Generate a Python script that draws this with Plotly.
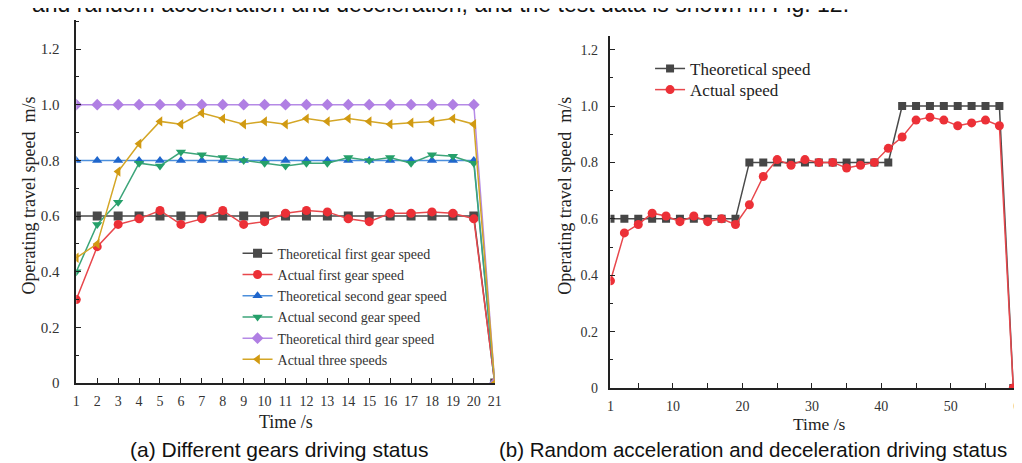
import plotly.graph_objects as go

# ---------------- data: (a) different gears ----------------
time_a = [1, 2, 3, 4, 5, 6, 7, 8, 9, 10, 11, 12, 13, 14, 15, 16, 17, 18, 19, 20, 21]
theo_first = [0.6, 0.6, 0.6, 0.6, 0.6, 0.6, 0.6, 0.6, 0.6, 0.6, 0.6, 0.6, 0.6, 0.6, 0.6, 0.6, 0.6, 0.6, 0.6, 0.6, 0.0]
act_first = [0.30, 0.49, 0.57, 0.59, 0.62, 0.57, 0.59, 0.62, 0.57, 0.58, 0.61, 0.62, 0.615, 0.59, 0.58, 0.61, 0.61, 0.615, 0.61, 0.59, 0.0]
theo_second = [0.8, 0.8, 0.8, 0.8, 0.8, 0.8, 0.8, 0.8, 0.8, 0.8, 0.8, 0.8, 0.8, 0.8, 0.8, 0.8, 0.8, 0.8, 0.8, 0.8, 0.0]
act_second = [0.40, 0.57, 0.65, 0.79, 0.78, 0.83, 0.82, 0.81, 0.80, 0.79, 0.78, 0.79, 0.79, 0.81, 0.80, 0.81, 0.79, 0.82, 0.815, 0.79, 0.0]
theo_third = [1.0, 1.0, 1.0, 1.0, 1.0, 1.0, 1.0, 1.0, 1.0, 1.0, 1.0, 1.0, 1.0, 1.0, 1.0, 1.0, 1.0, 1.0, 1.0, 1.0, 0.0]
act_third = [0.45, 0.50, 0.76, 0.86, 0.94, 0.93, 0.97, 0.95, 0.93, 0.94, 0.93, 0.95, 0.94, 0.95, 0.94, 0.93, 0.935, 0.94, 0.95, 0.93, 0.0]

# ---------------- data: (b) random acceleration / deceleration ----------------
time_b = [1, 3, 5, 7, 9, 11, 13, 15, 17, 19, 21, 23, 25, 27, 29, 31, 33, 35, 37, 39,
          41, 43, 45, 47, 49, 51, 53, 55, 57, 59]
theo_speed = [0.6, 0.6, 0.6, 0.6, 0.6, 0.6, 0.6, 0.6, 0.6, 0.6,
              0.8, 0.8, 0.8, 0.8, 0.8, 0.8, 0.8, 0.8, 0.8, 0.8, 0.8,
              1.0, 1.0, 1.0, 1.0, 1.0, 1.0, 1.0, 1.0, 0.0]
act_speed = [0.38, 0.55, 0.58, 0.62, 0.61, 0.59, 0.61, 0.59, 0.60, 0.58,
             0.65, 0.75, 0.81, 0.79, 0.81, 0.80, 0.80, 0.78, 0.79, 0.80, 0.85,
             0.89, 0.95, 0.96, 0.95, 0.93, 0.94, 0.95, 0.93, 0.0]

# ---------------- tick labels ----------------
y_tickvals = [0, 0.2, 0.4, 0.6, 0.8, 1.0, 1.2]
y_ticktext = ["0", "0.2", "0.4", "0.6", "0.8", "1.0", "1.2"]
xa_tickvals = time_a
xa_ticktext = [str(v) for v in time_a]
xb_tickvals = [1, 10, 20, 30, 40, 50, 60]
xb_ticktext = ["1", "10", "20", "30", "40", "50", "60"]

W, H = 1022, 463
SERIF = "Liberation Serif, Times New Roman, serif"
SANS = "Liberation Sans, Arial, sans-serif"

def px(v):
    return v / W

def py(v):
    return 1 - v / H

fig = go.Figure()

series_a = [
    ("Theoretical first gear speed", theo_first, "#4a4a4a", "#4a4a4a", "square"),
    ("Actual first gear speed", act_first, "#e8474c", "#ec2f36", "circle"),
    ("Theoretical second gear speed", theo_second, "#4c8fdc", "#1f66cc", "triangle-up"),
    ("Actual second gear speed", act_second, "#3da57a", "#25a06a", "triangle-down"),
    ("Theoretical third gear speed", theo_third, "#b58ae6", "#b07fe3", "diamond"),
    ("Actual three speeds", act_third, "#d4a626", "#d19a12", "triangle-left"),
]
for name, ys, lc, mc, sym in series_a:
    fig.add_trace(go.Scatter(
        x=time_a, y=ys, name=name, mode="lines+markers",
        line=dict(color=lc, width=1.5),
        marker=dict(symbol=sym, size=9, color=mc, line=dict(width=0)),
        xaxis="x", yaxis="y", legend="legend",
    ))

fig.add_trace(go.Scatter(
    x=time_b, y=theo_speed, name="Theoretical speed", mode="lines+markers",
    line=dict(color="#4a4a4a", width=1.5),
    marker=dict(symbol="square", size=8, color="#464646", line=dict(width=0)),
    xaxis="x2", yaxis="y2", legend="legend2",
))
fig.add_trace(go.Scatter(
    x=time_b, y=act_speed, name="Actual speed", mode="lines+markers",
    line=dict(color="#e8474c", width=1.5),
    marker=dict(symbol="circle", size=9, color="#ec3037", line=dict(width=0)),
    xaxis="x2", yaxis="y2", legend="legend3",
))

axis_common = dict(
    showgrid=False, zeroline=False, showline=True, linecolor="#222222", linewidth=1.5,
    ticks="inside", ticklen=5, tickwidth=1.2, tickcolor="#222222",
)

legend_common = dict(
    xanchor="left", yanchor="middle",
    bgcolor="rgba(255,255,255,0)", borderwidth=0,
    itemwidth=30, tracegroupgap=0,
)

fig.update_layout(
    width=W, height=H,
    margin=dict(l=0, r=0, t=0, b=0),
    paper_bgcolor="white", plot_bgcolor="white",
    showlegend=True,
    xaxis=dict(
        domain=[px(65), px(488)], range=[1, 21], anchor="y",
        tickvals=xa_tickvals, ticktext=xa_ticktext,
        tickfont=dict(family=SERIF, size=14, color="#333333"),
        ticklabelstandoff=4,
        **axis_common,
    ),
    yaxis=dict(
        domain=[py(381.7), py(12)], range=[0, 1.305], anchor="x",
        tickvals=y_tickvals, ticktext=y_ticktext,
        tickfont=dict(family=SERIF, size=15, color="#333333"),
        ticklabelstandoff=12,
        minor=dict(dtick=0.1, tick0=0, ticks="inside", ticklen=3, tickcolor="#222222"),
        **axis_common,
    ),
    xaxis2=dict(
        domain=[px(605), 1.0], range=[1, 60.4], anchor="y2",
        tickvals=xb_tickvals, ticktext=xb_ticktext,
        tickfont=dict(family=SERIF, size=14, color="#333333"),
        ticklabelstandoff=4,
        minor=dict(dtick=5, tick0=0, ticks="inside", ticklen=5, tickcolor="#222222"),
        **axis_common,
    ),
    yaxis2=dict(
        domain=[py(386.7), py(28)], range=[0, 1.25], anchor="x2",
        tickvals=y_tickvals, ticktext=y_ticktext,
        tickfont=dict(family=SERIF, size=14, color="#333333"),
        ticklabelstandoff=8,
        minor=dict(dtick=0.1, tick0=0, ticks="inside", ticklen=3, tickcolor="#222222"),
        **axis_common,
    ),
    legend=dict(
        x=px(228), y=py(304),
        font=dict(family=SERIF, size=14, color="#333333"),
        **legend_common,
    ),
    legend2=dict(
        x=px(645), y=py(62),
        font=dict(family=SERIF, size=17, color="#222222"),
        **legend_common,
    ),
    legend3=dict(
        x=px(645), y=py(83.5),
        font=dict(family=SERIF, size=17, color="#222222"),
        **legend_common,
    ),
)

annotations = [
    # axis titles
    dict(text="Operating travel speed  m/s", x=px(17), y=py(191), textangle=-90,
         font=dict(family=SERIF, size=18, color="#222222")),
    dict(text="Time /s", x=px(277), y=py(421), font=dict(family=SERIF, size=18, color="#222222")),
    dict(text="Operating travel speed  m/s", x=px(559), y=py(191), textangle=-90,
         font=dict(family=SERIF, size=18, color="#222222")),
    dict(text="Time /s", x=px(816), y=py(423), font=dict(family=SERIF, size=17.5, color="#222222")),
    # captions
    dict(text="(a) Different gears driving status", x=px(270), y=py(449),
         font=dict(family=SANS, size=21, color="#111111")),
    dict(text="(b) Random acceleration and deceleration driving status", x=px(749), y=py(449),
         font=dict(family=SANS, size=20.5, color="#111111")),
    # cut-off body text at the very top
    dict(text="and random acceleration and deceleration, and the test data is shown in Fig. 12.",
         x=px(18), y=py(-4), xanchor="left", yanchor="middle",
         font=dict(family=SANS, size=23, color="#111111")),
]
for a in annotations:
    a.setdefault("xanchor", "center")
    a.setdefault("yanchor", "middle")
    a.update(xref="paper", yref="paper", showarrow=False)
fig.update_layout(annotations=annotations)

fig.write_html("out.html")
